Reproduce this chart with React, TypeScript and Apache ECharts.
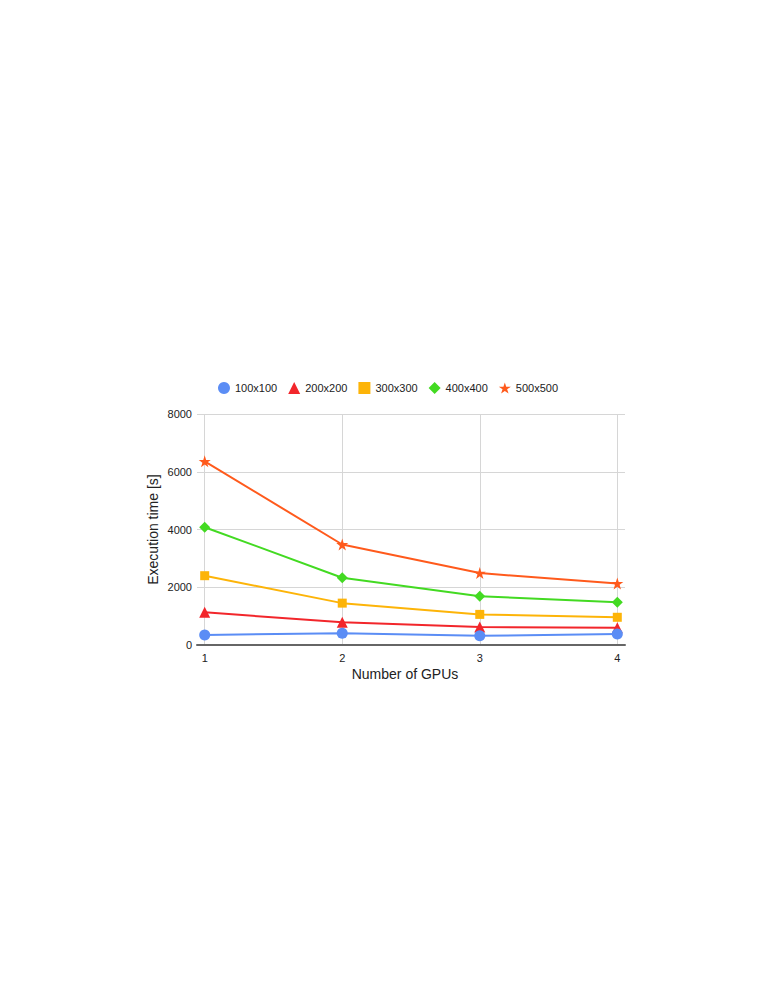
import React, { useEffect, useRef } from "react";
import * as echarts from "echarts";

const gpus = [1, 2, 3, 4];
const seriesNames = ["100x100", "200x200", "300x300", "400x400", "500x500"];
const s100 = [350, 410, 320, 380];
const s200 = [1130, 790, 620, 600];
const s300 = [2400, 1450, 1060, 960];
const s400 = [4080, 2330, 1690, 1480];
const s500 = [6360, 3480, 2490, 2130];
const colors = ["#5B8DF5", "#F2262B", "#FDB408", "#43DA22", "#FF5A1C"];
const symbols = ["circle", "triangle", "rect", "diamond", "path://M50,0 L61.8,35.4 L100,35.4 L69.1,57.3 L80.9,93.3 L50,71.4 L19.1,93.3 L30.9,57.3 L0,35.4 L38.2,35.4 Z"];
const symbolSizes = [11, 11, 9, 11, 12];

const FONT = "'Liberation Sans', Arial, sans-serif";

export default function App() {
  const ref = useRef<HTMLDivElement>(null);
  useEffect(() => {
    if (!ref.current) return;
    const chart = echarts.init(ref.current, null, { renderer: "svg" });
    const allData = [s100, s200, s300, s400, s500];
    chart.setOption({
      animation: false,
      textStyle: { fontFamily: FONT },
      legend: {
        top: 382,
        left: 218,
        padding: 0,
        itemGap: 11,
        itemWidth: 12,
        itemHeight: 12,
        textStyle: { fontFamily: FONT, fontSize: 11, color: "#222" },
        data: seriesNames.map((n, i) => ({ name: n, icon: symbols[i] })),
      },
      grid: { left: 197, right: 148, top: 414, bottom: 356, containLabel: false },
      xAxis: {
        type: "value",
        min: 0.944,
        max: 4.056,
        name: "Number of GPUs",
        nameLocation: "middle",
        nameGap: 22,
        nameMoveOverlap: false,
        nameTextStyle: { fontFamily: FONT, fontSize: 14, color: "#222", padding: [0, 12, 0, 0] },
        axisLine: { show: true, lineStyle: { color: "#666", width: 2 } },
        axisTick: { show: false, customValues: gpus },
        axisLabel: { customValues: gpus, fontFamily: FONT, fontSize: 11, color: "#222", margin: 7 },
        splitLine: { show: true, lineStyle: { color: "#D6D6D6", width: 1 } },
      },
      yAxis: {
        type: "value",
        min: 0,
        max: 8000,
        interval: 2000,
        name: "Execution time [s]",
        nameLocation: "middle",
        nameGap: 37,
        nameMoveOverlap: false,
        nameTextStyle: { fontFamily: FONT, fontSize: 14, color: "#222" },
        axisLine: { show: false },
        axisTick: { show: false },
        axisLabel: {
          fontFamily: FONT,
          fontSize: 11,
          color: "#222",
          margin: 5,
          formatter: (v: number) => String(v),
        },
        splitLine: { show: true, lineStyle: { color: "#D6D6D6", width: 1 } },
      },
      series: seriesNames.map((n, i) => ({
        name: n,
        type: "line",
        data: gpus.map((g, j) => [g, allData[i][j]]),
        symbol: symbols[i],
        symbolSize: symbolSizes[i],
        showAllSymbol: true,
        lineStyle: { color: colors[i], width: 2 },
        itemStyle: { color: colors[i] },
        z: 2 + (4 - i),
      })),
    });
    return () => chart.dispose();
  }, []);
  return (
    <div
      ref={ref}
      style={{ position: "fixed", left: 0, top: 0, width: 773, height: 1001, background: "#fff" }}
    />
  );
}
